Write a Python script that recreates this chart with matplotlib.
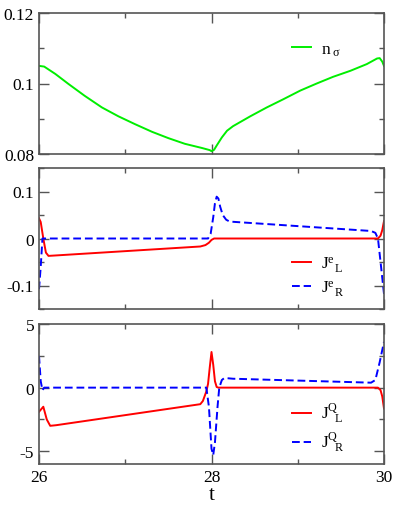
import matplotlib
matplotlib.use("Agg")
import matplotlib.pyplot as plt
from matplotlib.ticker import MultipleLocator

plt.rcParams['font.family'] = ['Liberation Serif', 'DejaVu Serif']
plt.rcParams['mathtext.fontset'] = 'custom'
plt.rcParams['mathtext.rm'] = 'Liberation Serif'
plt.rcParams['mathtext.it'] = 'Liberation Serif'

# ---- data ----
t_n = [26.0, 26.06, 26.19, 26.34, 26.53, 26.73, 26.92, 27.11, 27.31, 27.50, 27.69, 27.89, 27.98,
       28.0, 28.03, 28.06, 28.12, 28.18, 28.25, 28.45, 28.64, 28.83, 29.03, 29.22, 29.41, 29.61,
       29.80, 29.92, 29.95, 29.98, 30.0]
n_sigma = [0.1050, 0.1048, 0.1027, 0.0999, 0.0965, 0.0932, 0.0907, 0.0885, 0.0863, 0.0845, 0.0829,
           0.0817, 0.0811, 0.0808, 0.0812, 0.0824, 0.0847, 0.0866, 0.0879, 0.0907, 0.0932, 0.0955,
           0.0980, 0.1000, 0.1019, 0.1036, 0.1055, 0.1071, 0.1072, 0.1062, 0.1050]

t_eL = [26.0, 26.02, 26.05, 26.08, 26.11, 26.2, 27.87, 27.93, 27.97, 28.0, 28.03, 29.93, 29.96, 29.98, 30.0]
Je_L = [0.043, 0.035, 0.0, -0.030, -0.037, -0.036, -0.017, -0.014, -0.009, -0.003, 0.0, 0.0, 0.006, 0.018, 0.037]

t_eR = [26.0, 26.02, 26.04, 27.96, 27.99, 28.02, 28.04, 28.06, 28.08, 28.1, 28.13, 28.17, 28.21,
        29.85, 29.9, 29.93, 29.96, 30.0]
Je_R = [-0.108, -0.06, 0.0, 0.0, 0.01, 0.045, 0.075, 0.089, 0.085, 0.068, 0.050, 0.040, 0.036,
        0.016, 0.012, 0.0, -0.05, -0.118]

t_QL = [26.0, 26.05, 26.09, 26.13, 26.2, 27.87, 27.9, 27.94, 27.96, 27.98, 28.0, 28.02, 28.04,
        28.06, 28.08, 29.93, 29.96, 29.98, 30.0]
JQ_L = [-1.9, -1.5, -2.5, -3.0, -2.95, -1.3, -1.05, -0.3, 0.3, 1.6, 2.8, 1.8, 0.5, 0.05, 0.0,
        0.0, -0.2, -0.7, -1.64]

t_QR = [26.0, 26.02, 26.04, 26.06, 27.94, 27.97, 28.0, 28.02, 28.04, 28.07, 28.09, 28.12, 28.15,
        28.25, 29.85, 29.9, 29.95, 30.0]
JQ_R = [2.5, 0.5, -0.2, 0.0, 0.0, -1.5, -4.8, -5.3, -4.3, -1.5, 0.0, 0.6, 0.76, 0.7, 0.39, 0.6,
        2.0, 3.6]

fig = plt.figure(figsize=(3.98, 5.06), dpi=100)
W, H = 398, 506
left, right = 39 / W, 384 / W
axes_px = [(14, 155), (169, 310), (325, 465)]
axs = []
for top, bot in axes_px:
    ax = fig.add_axes([left, 1 - bot / H, right - left, (bot - top) / H])
    axs.append(ax)

spine_col = '#555555'
FS = 12.5
for ax in axs:
    ax.set_xlim(26, 30)
    ax.xaxis.set_major_locator(MultipleLocator(2))
    ax.xaxis.set_minor_locator(MultipleLocator(1))
    ax.tick_params(which='both', direction='in', top=True, right=True,
                   color=spine_col, width=1.0, labelsize=FS)
    ax.tick_params(which='major', length=7)
    ax.tick_params(which='minor', length=3.5)
    for s in ax.spines.values():
        s.set_color(spine_col)
        s.set_linewidth(1.2)

leg_kw = dict(loc='center left', frameon=False, handlelength=1.1, handletextpad=0.6,
              borderpad=0, borderaxespad=0, fontsize=FS)

ax1, ax2, ax3 = axs
ax1.plot(t_n, n_sigma, color='#00ee00', lw=1.4, label=r'n$_{\ \sigma}$')
ax1.set_ylim(0.08, 0.12)
ax1.set_yticks([0.08, 0.1, 0.12])
ax1.set_yticklabels(['0.08', '0.1', '0.12'])
ax1.yaxis.set_minor_locator(MultipleLocator(0.01))
ax1.tick_params(labelbottom=False)
ax1.legend(bbox_to_anchor=(0.732, 0.74), **leg_kw)

ax2.plot(t_eL, Je_L, color='#ff0000', lw=1.4, label=r'J$^{\mathrm{e}}_{\ \ \mathrm{L}}$')
ax2.plot(t_eR, Je_R, color='#0000ff', lw=1.4, ls=(0, (4, 2)), label=r'J$^{\mathrm{e}}_{\ \ \mathrm{R}}$')
ax2.set_ylim(-0.15, 0.15)
ax2.set_yticks([-0.1, 0, 0.1])
ax2.set_yticklabels(['-0.1', '0', '0.1'])
ax2.yaxis.set_minor_locator(MultipleLocator(0.05))
ax2.tick_params(labelbottom=False)
ax2.legend(bbox_to_anchor=(0.732, 0.23), labelspacing=0.2, **leg_kw)

ax3.plot(t_QL, JQ_L, color='#ff0000', lw=1.4, label=r'J$^{\mathrm{Q}}_{\ \ \mathrm{L}}$')
ax3.plot(t_QR, JQ_R, color='#0000ff', lw=1.4, ls=(0, (4, 2)), label=r'J$^{\mathrm{Q}}_{\ \ \mathrm{R}}$')
ax3.set_ylim(-6, 5)
ax3.set_yticks([-5, 0, 5])
ax3.set_yticklabels(['-5', '0', '5'])
ax3.yaxis.set_minor_locator(MultipleLocator(2.5))
ax3.set_xticks([26, 28, 30])
ax3.set_xticklabels(['26', '28', '30'])
ax3.set_xlabel('t', fontsize=15, labelpad=0)
ax3.legend(bbox_to_anchor=(0.732, 0.26), labelspacing=0.25, **leg_kw)

fig.savefig('out.png', dpi=100)
